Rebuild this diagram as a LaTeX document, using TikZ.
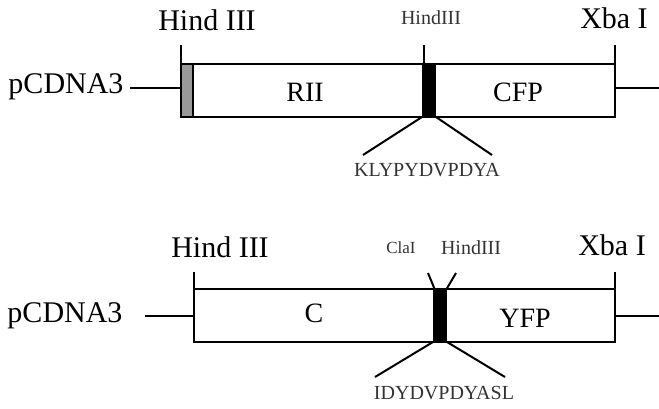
\documentclass[tikz,border=0pt]{standalone}
\usepackage{fontspec}
\setmainfont{Liberation Serif}
\begin{document}
\begin{tikzpicture}[x=1pt,y=-1pt,
  ln/.style={line width=2pt},
  big/.style={inner sep=0pt,font=\fontsize{30}{30}\selectfont},
  mid/.style={inner sep=0pt,font=\fontsize{28}{28}\selectfont},
  small/.style={inner sep=0pt,text=black!80,font=\fontsize{20}{20}\selectfont},
  tiny/.style={inner sep=0pt,text=black!80,font=\fontsize{17}{17}\selectfont}]
\useasboundingbox (0,0) rectangle (659,409);
% ---------- top construct ----------
\coordinate (t-l-top) at (181,64);
\coordinate (t-r-bot) at (615,117);
\fill[black!40] (181,64) rectangle (193,117);
\draw[ln] (181,64) rectangle (615,117);
\draw[ln] (193,64) -- (193,117);
\fill[black] (422,64) rectangle (436,117);
\coordinate (t-h1) at (181,45);
\coordinate (t-h2) at (424,45);
\coordinate (t-x) at (615,45);
\draw[ln] (t-h1) -- (181,64);
\draw[ln] (t-h2) -- (424,64);
\draw[ln] (t-x) -- (615,64);
\node[big] (tp) at (66,87) {pCDNA3};
\coordinate (tpl) at (130,88);
\coordinate (tpr) at (181,88);
\draw[ln] (tpl) -- (tpr);
\coordinate (txl) at (615,88);
\coordinate (txr) at (659,88);
\draw[ln] (txl) -- (txr);
\coordinate (tb1) at (422,117);
\coordinate (tb2) at (436,117);
\coordinate (td1) at (363,155);
\coordinate (td2) at (492,155);
\draw[ln] (tb1) -- (td1);
\draw[ln] (tb2) -- (td2);
\node[big] (thind) at (207,20) {Hind III};
\node[small] (thind2) at (431,18) {HindIII};
\node[big] (txba) at (614,18) {Xba I};
\node[mid] (trii) at (305,92) {RII};
\node[mid] (tcfp) at (518,92) {CFP};
\node[small] (tpep) at (427,170) {KLYPYDVPDYA};
% ---------- bottom construct ----------
\draw[ln] (194,289) rectangle (615,342);
\fill[black] (433,289) rectangle (447,342);
\coordinate (b-h1) at (194,272);
\draw[ln] (b-h1) -- (194,289);
\coordinate (b-c) at (428,273);
\coordinate (b-h2) at (456,273);
\draw[ln] (b-c) -- (435,290);
\draw[ln] (b-h2) -- (446,290);
\coordinate (b-x) at (615,272);
\draw[ln] (b-x) -- (615,289);
\node[big] (bp) at (65,316) {pCDNA3};
\coordinate (bpl) at (145,316);
\coordinate (bpr) at (194,316);
\draw[ln] (bpl) -- (bpr);
\coordinate (bxl) at (615,316);
\coordinate (bxr) at (659,316);
\draw[ln] (bxl) -- (bxr);
\coordinate (bb1) at (433,342);
\coordinate (bb2) at (447,342);
\coordinate (bd1) at (375,377);
\coordinate (bd2) at (505,377);
\draw[ln] (bb1) -- (bd1);
\draw[ln] (bb2) -- (bd2);
\node[big] (bhind) at (220,247) {Hind III};
\node[tiny] (bcla) at (401,248) {ClaI};
\node[small] (bhind2) at (471,248) {HindIII};
\node[big] (bxba) at (612,245) {Xba I};
\node[mid] (bc) at (314,313) {C};
\node[mid] (byfp) at (525,318) {YFP};
\node[small] (bpep) at (444,393) {IDYDVPDYASL};
\end{tikzpicture}
\end{document}
